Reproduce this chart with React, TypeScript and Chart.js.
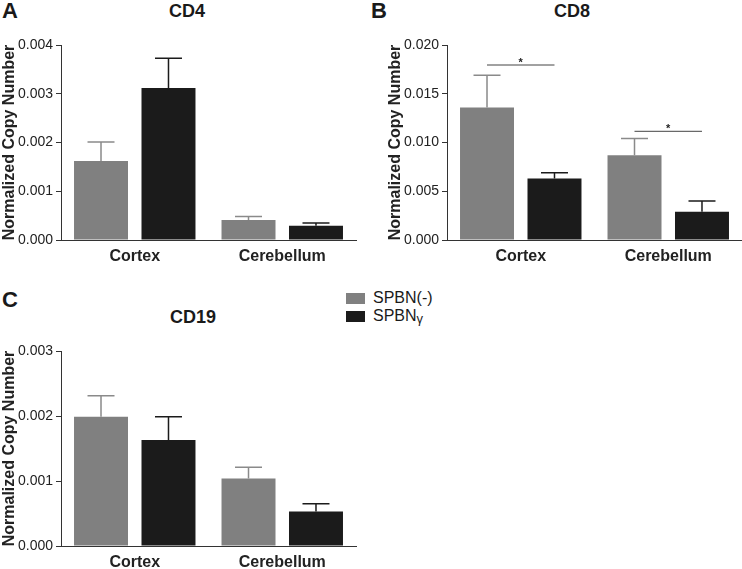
import React, { useEffect, useRef } from "react";
import { Chart, registerables } from "chart.js";

Chart.register(...registerables);

const categories = ["Cortex", "Cerebellum"];
const seriesNames = ["SPBN(-)", "SPBNγ"];

const cd4Neg = [0.00162, 0.00041];
const cd4NegErr = [0.00039, 0.00007];
const cd4Gamma = [0.00312, 0.00029];
const cd4GammaErr = [0.00061, 0.00006];

const cd8Neg = [0.0136, 0.0087];
const cd8NegErr = [0.0033, 0.0017];
const cd8Gamma = [0.0063, 0.0029];
const cd8GammaErr = [0.0006, 0.0011];
const cd8SigLevels = [0.018, 0.0112];

const cd19Neg = [0.00199, 0.00104];
const cd19NegErr = [0.00032, 0.00017];
const cd19Gamma = [0.00163, 0.00053];
const cd19GammaErr = [0.00036, 0.00012];

const FONT = "'Liberation Sans', Arial, Helvetica, sans-serif";
const GRAY = "#808080";
const BLACK = "#1b1b1b";
const AXIS = "#333333";

const errorBarPlugin = {
  id: "errorBars",
  afterDatasetsDraw(chart: any) {
    const ctx = chart.ctx;
    const yScale = chart.scales.y;
    chart.data.datasets.forEach((ds: any, i: number) => {
      const meta = chart.getDatasetMeta(i);
      meta.data.forEach((el: any, j: number) => {
        const v = ds.data[j];
        const e = ds.errors[j];
        const yTop = yScale.getPixelForValue(v + e);
        const yBase = yScale.getPixelForValue(v);
        const half = el.width / 4;
        ctx.save();
        ctx.strokeStyle = ds.errColor;
        ctx.lineWidth = 1.5;
        ctx.beginPath();
        ctx.moveTo(el.x, yBase);
        ctx.lineTo(el.x, yTop);
        ctx.moveTo(el.x - half, yTop);
        ctx.lineTo(el.x + half, yTop);
        ctx.stroke();
        ctx.restore();
      });
    });
  },
};

const sigPlugin = {
  id: "sigBrackets",
  afterDatasetsDraw(chart: any, _args: any, opts: any) {
    if (!opts || !opts.levels) return;
    const ctx = chart.ctx;
    const yScale = chart.scales.y;
    const m0 = chart.getDatasetMeta(0);
    const m1 = chart.getDatasetMeta(1);
    opts.levels.forEach((lvl: number, j: number) => {
      const x0 = m0.data[j].x;
      const x1 = m1.data[j].x;
      const y = yScale.getPixelForValue(lvl);
      ctx.save();
      ctx.strokeStyle = "#444";
      ctx.lineWidth = 1;
      ctx.beginPath();
      ctx.moveTo(x0, y + 0.5);
      ctx.lineTo(x1, y + 0.5);
      ctx.stroke();
      ctx.fillStyle = "#222";
      ctx.font = `bold 11px ${FONT}`;
      ctx.textAlign = "center";
      ctx.textBaseline = "alphabetic";
      ctx.fillText("*", (x0 + x1) / 2, y + 1);
      ctx.restore();
    });
  },
};

type PanelProps = {
  left: number;
  top: number;
  width: number;
  height: number;
  neg: number[];
  negErr: number[];
  gamma: number[];
  gammaErr: number[];
  max: number;
  step: number;
  sig?: number[];
};

function Panel(p: PanelProps) {
  const ref = useRef<HTMLCanvasElement>(null);
  useEffect(() => {
    if (!ref.current) return;
    const chart = new Chart(ref.current, {
      type: "bar",
      data: {
        labels: categories,
        datasets: [
          {
            label: seriesNames[0],
            data: p.neg,
            errors: p.negErr,
            errColor: "#8a8a8a",
            backgroundColor: GRAY,
            borderWidth: 0,
            categoryPercentage: 0.915,
            barPercentage: 0.8,
          } as any,
          {
            label: seriesNames[1],
            data: p.gamma,
            errors: p.gammaErr,
            errColor: BLACK,
            backgroundColor: BLACK,
            borderWidth: 0,
            categoryPercentage: 0.915,
            barPercentage: 0.8,
          } as any,
        ],
      },
      options: {
        animation: false,
        responsive: false,
        maintainAspectRatio: false,
        layout: { padding: { top: 15, right: p.width - 295 - 61, left: 0, bottom: 0 } },
        plugins: {
          legend: { display: false },
          title: { display: false },
          tooltip: { enabled: false },
          sigBrackets: { levels: p.sig },
        } as any,
        scales: {
          x: {
            grid: { display: false, drawTicks: false },
            border: { display: true, color: AXIS, width: 1 },
            ticks: {
              color: "#222",
              padding: 7,
              font: { family: FONT, size: 16, weight: "bold" },
            },
            afterFit(scale: any) {
              scale.height = 40;
            },
          },
          y: {
            min: 0,
            max: p.max,
            grid: {
              display: true,
              drawOnChartArea: false,
              drawTicks: true,
              tickLength: 5,
              color: AXIS,
            },
            border: { display: true, color: AXIS, width: 1 },
            ticks: {
              stepSize: p.step,
              color: "#222",
              padding: 3,
              font: { family: FONT, size: 14 },
              callback: (v: any) => Number(v).toFixed(3),
            },
            title: {
              display: true,
              text: "Normalized Copy Number",
              color: "#222",
              padding: 0,
              font: { family: FONT, size: 16, weight: "bold" },
            },
            afterFit(scale: any) {
              scale.width = 61;
            },
          },
        },
      },
      plugins: [errorBarPlugin, sigPlugin],
    } as any);
    return () => chart.destroy();
  }, []);
  return (
    <canvas
      ref={ref}
      width={p.width}
      height={p.height}
      style={{ position: "absolute", left: p.left, top: p.top, width: p.width, height: p.height }}
    />
  );
}

const textBase: React.CSSProperties = {
  position: "absolute",
  fontFamily: FONT,
  color: "#1a1a1a",
  whiteSpace: "nowrap",
  lineHeight: 1,
};

export default function App() {
  return (
    <div
      style={{
        position: "absolute",
        left: 0,
        top: 0,
        width: 742,
        height: 569,
        background: "#fff",
        overflow: "hidden",
      }}
    >
      <Panel left={0} top={30} width={360} height={250} neg={cd4Neg} negErr={cd4NegErr} gamma={cd4Gamma} gammaErr={cd4GammaErr} max={0.004} step={0.001} />
      <Panel left={386} top={30} width={356} height={250} neg={cd8Neg} negErr={cd8NegErr} gamma={cd8Gamma} gammaErr={cd8GammaErr} max={0.02} step={0.005} sig={cd8SigLevels} />
      <Panel left={0} top={336} width={360} height={250} neg={cd19Neg} negErr={cd19NegErr} gamma={cd19Gamma} gammaErr={cd19GammaErr} max={0.003} step={0.001} />

      <div style={{ ...textBase, left: 2, top: 0, fontSize: 22, fontWeight: "bold" }}>A</div>
      <div style={{ ...textBase, left: 371, top: 0, fontSize: 22, fontWeight: "bold" }}>B</div>
      <div style={{ ...textBase, left: 2, top: 289, fontSize: 22, fontWeight: "bold" }}>C</div>

      <div style={{ ...textBase, left: 187, top: 2, fontSize: 18, fontWeight: "bold", transform: "translateX(-50%)" }}>CD4</div>
      <div style={{ ...textBase, left: 572, top: 2, fontSize: 18, fontWeight: "bold", transform: "translateX(-50%)" }}>CD8</div>
      <div style={{ ...textBase, left: 193, top: 308, fontSize: 18, fontWeight: "bold", transform: "translateX(-50%)" }}>CD19</div>

      <div style={{ position: "absolute", left: 346, top: 293, width: 19, height: 11, background: GRAY }} />
      <div style={{ ...textBase, left: 373, top: 290, fontSize: 16 }}>{seriesNames[0]}</div>
      <div style={{ position: "absolute", left: 346, top: 311, width: 19, height: 11, background: BLACK }} />
      <div style={{ ...textBase, left: 373, top: 308, fontSize: 16 }}>
        SPBN<span style={{ fontSize: 13, position: "relative", top: 2 }}>γ</span>
      </div>
    </div>
  );
}
